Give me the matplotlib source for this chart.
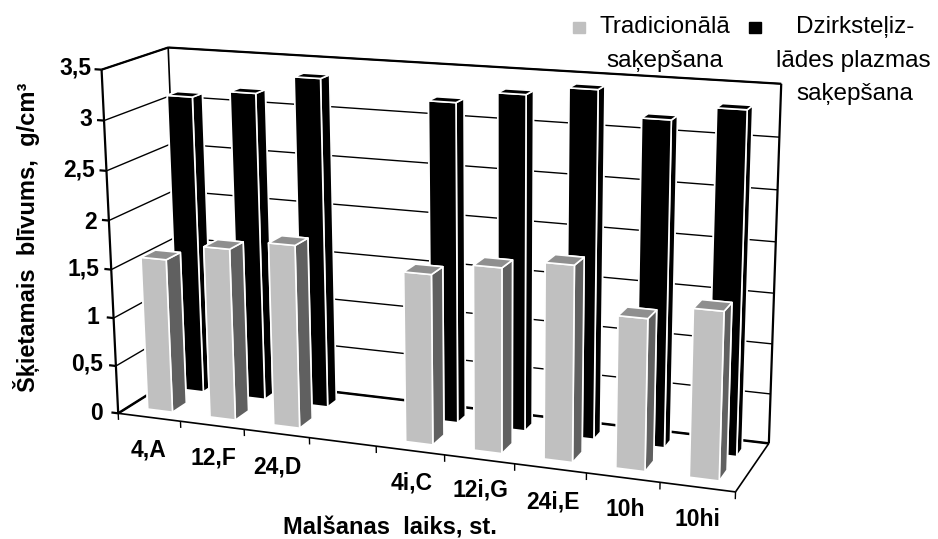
import numpy as np, matplotlib
matplotlib.use('Agg')
import matplotlib.pyplot as plt
from matplotlib.patches import Rectangle
plt.rcParams['font.family'] = ['Liberation Sans', 'DejaVu Sans']

categories = ['4,A', '12,F', '24,D', '4i,C', '12i,G', '24i,E', '10h', '10hi']
slots = [0, 1, 2, 4, 5, 6, 7, 8]
traditional = [1.59, 1.76, 1.86, 1.70, 1.83, 1.92, 1.48, 1.62]
plasma = [3.10, 3.18, 3.37, 3.22, 3.34, 3.43, 3.19, 3.33]
z_ticks = [0, 0.5, 1, 1.5, 2, 2.5, 3, 3.5]
z_labels = ['0', '0,5', '1', '1,5', '2', '2,5', '3', '3,5']
z_label_px = [(103, 414), (103, 364), (99, 318), (99, 269), (97, 222), (95, 170), (92, 119), (91, 68)]
label_px = [(148, 450), (213, 458), (277, 467), (412, 483), (480, 490), (553, 502), (625, 510), (697, 520)]
n_slots = 9

W, H = 938, 539
fig = plt.figure(figsize=(W/100, H/100), dpi=100, facecolor='white')
S, L, B = 742.5, 53.2, -98.4
ax = fig.add_axes([L/W, B/H, S/W, S/H], projection='3d')
ax.patch.set_alpha(0)
ax.set_xlim(0, n_slots, view_margin=0)
ax.set_ylim(0, 1, view_margin=0)
ax.set_zlim(0, 3.5, view_margin=0)
ax.view_init(elev=15.01, azim=-68.71, roll=0.46)
ax.set_proj_type('persp', focal_length=0.5365)
ax.set_box_aspect((5.182, 1.113, 2.865))
ax.set_axis_off()
ax.computed_zorder = False

def seg(xs, ys, zs, lw=1.0, z=1):
    ax.plot(xs, ys, zs, color='black', lw=lw, zorder=z, solid_capstyle='butt')

# frame
N = n_slots
seg([0, 0], [0, 0], [0, 3.5], 1.6)
seg([0, 0], [0, 1], [3.5, 3.5], 1.6)
seg([0, 0], [1, 1], [0, 3.5], 1.2)
seg([0, N], [1, 1], [3.5, 3.5], 1.6)
seg([N, N], [1, 1], [0, 3.5], 1.6)
seg([0, N], [0, 0], [0, 0], 1.2)
seg([N, N], [0, 1], [0, 0], 1.2)
seg([0, N], [1, 1], [0, 0], 1.8)
seg([0, 0], [0, 1], [0, 0], 1.8)
for t in z_ticks:
    seg([0, 0], [0, 1], [t, t], 1.0)
    seg([0, N], [1, 1], [t, t], 1.0)
    seg([-0.11, 0], [0, 0], [t, t], 1.6)
for i in range(N + 1):
    seg([i, i], [0, 0], [0, -0.07], 1.0)

# bars
bw = 0.40
for s, v in sorted(zip(slots, plasma), reverse=True):
    ax.bar3d(s + 0.31, 0.66, 0, bw, 0.16, v, color=['black'] * 6, edgecolor='white',
             linewidth=1.2, shade=False, zorder=3)
for s, v in sorted(zip(slots, traditional), reverse=True):
    ax.bar3d(s + 0.31, 0.16, 0, bw, 0.22, v,
             color=['#c0c0c0', '#8f8f8f', '#c0c0c0', '#c0c0c0', '#606060', '#606060'],
             edgecolor='white', linewidth=1.2, shade=False, zorder=4)

def ftext(x, y, s, ha='center', va='center', **kw):
    fig.text(x / W, 1 - y / H, s, ha=ha, va=va, **kw)

for lab, (x, y) in zip(z_labels, z_label_px):
    ftext(x, y, lab, ha='right', fontsize=16.5, fontweight='bold')
for c, (x, y) in zip(categories, label_px):
    ftext(x, y, c, fontsize=16.5, fontweight='bold')
ftext(390, 535, 'Malšanas  laiks, st.', va='baseline', fontsize=17, fontweight='bold')
ftext(27, 237, 'Šķietamais  blīvums,  g/cm³', fontsize=17, fontweight='bold', rotation=90)

# legend
fig.add_artist(Rectangle((573/W, 1-33/H), 12/W, 11/H, transform=fig.transFigure, color='#c0c0c0'))
fig.add_artist(Rectangle((749/W, 1-33/H), 12/W, 11/H, transform=fig.transFigure, color='black'))
ftext(665, 27, 'Tradicionālā', fontsize=17.5)
ftext(665, 61, 'saķepšana', fontsize=17.5)
ftext(855, 27, 'Dzirksteļiz-', fontsize=17.5)
ftext(853, 61, 'lādes plazmas', fontsize=17.5)
ftext(855, 94, 'saķepšana', fontsize=17.5)

fig.savefig('out.png', dpi=100, facecolor='white')
